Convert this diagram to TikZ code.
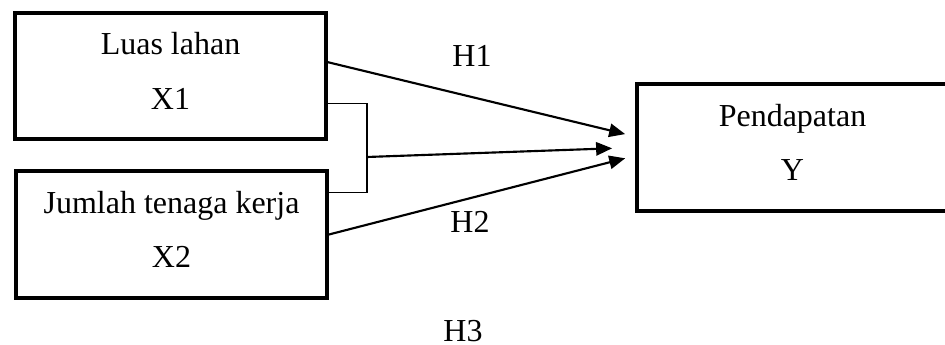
\documentclass[tikz,border=0pt]{standalone}
\usepackage{fontspec}
\setmainfont{Liberation Serif}
\usetikzlibrary{arrows.meta,positioning}
\tikzset{>={Triangle[length=6pt,width=5pt]},
	varbox/.style={draw,line width=1.5pt,minimum width=116.6pt,
		minimum height=47.4pt,align=center,
		font=\fontsize{12pt}{20.6pt}\selectfont,
		execute at end node={\rule[-3.8pt]{0pt}{0pt}}},
	hyp/.style={->,line width=0.8pt}}
\tikzstyle{bracket}=[line width=0.5pt]
\tikzstyle{labeled}=[font=\fontsize{12pt}{14pt}\selectfont]

\begin{document}
\begin{tikzpicture}[x=0.375pt,y=-0.375pt]
	\useasboundingbox (0,0) rectangle (945,345);
	\node[varbox] (x1) at (170.5,76) {Luas lahan\\X1};
	\node[varbox] (x2) at (171.5,234.5) {Jumlah tenaga kerja\\X2};
	\node[varbox] (y) at (792.5,147.5) {Pendapatan\\Y};
	% simultan
	\draw[bracket] (x1.-10.4) -- ++(39,0) coordinate (k1) |- (x2.15.8);
	\coordinate (k) at (k1 |- 0,157);
	\draw[hyp,shorten >=8.6pt] (k) -- (y.west);
	% parsial
	\draw[hyp,shorten >=3.8pt] (x1.5.5) -- (y.176.5);
	\draw[hyp,shorten >=3.8pt] (x2.east) -- (y.183.5);
	\node[labeled] (h1) at (472,56) {H1};
	\node[labeled] (h2) at (470,222) {H2};
	\node[labeled] (h3) at (463,331) {H3};
\end{tikzpicture}
\end{document}
